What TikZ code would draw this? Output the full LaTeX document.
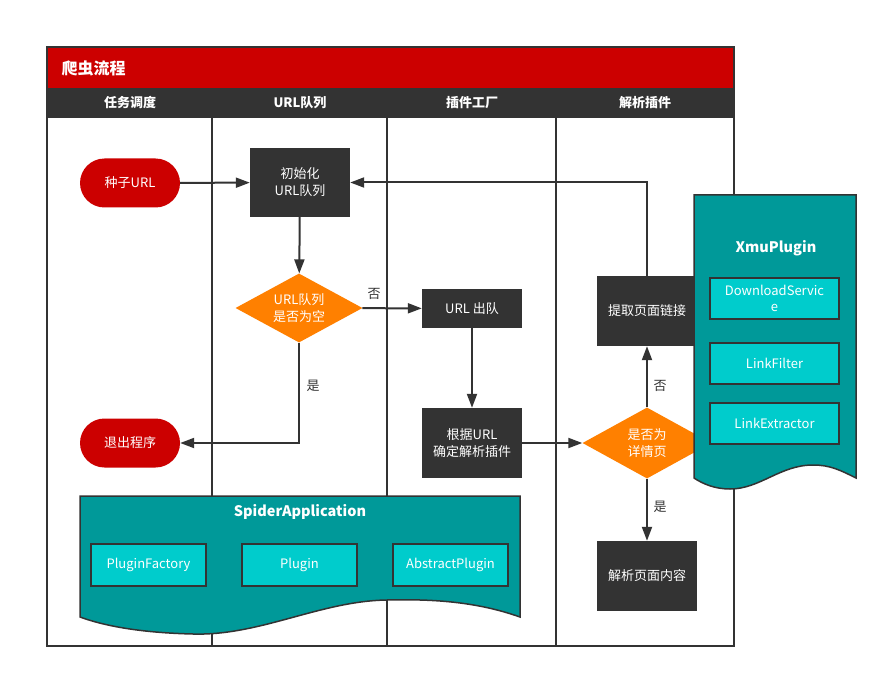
\documentclass[tikz,border=0pt]{standalone}
\usepackage{fontspec}
\setmainfont{Noto Sans CJK SC}
\usetikzlibrary{shapes.geometric,shapes.misc,arrows.meta}
\definecolor{cred}{HTML}{CC0000}
\definecolor{cdark}{HTML}{333333}
\definecolor{corange}{HTML}{FF8000}
\definecolor{cteal}{HTML}{009999}
\definecolor{ccyan}{HTML}{00CCCC}
\begin{document}
\begin{tikzpicture}[x=1pt,y=-1pt, font=\fontsize{13}{17}\selectfont,
 proc/.style={rectangle, fill=cdark, text=white, minimum width=100pt, minimum height=70pt, align=center, inner sep=0pt},
 term/.style={rounded rectangle, fill=cred, text=white, minimum width=100pt, minimum height=49pt, inner sep=0pt},
 dec/.style={diamond, fill=corange, text=white, aspect=1.85, inner sep=0pt, align=center, minimum width=127pt, minimum height=69pt},
 cls/.style={rectangle, draw=cdark, line width=1.5pt, fill=ccyan, text=white, align=center, inner sep=0pt},
 conn/.style={draw=cdark, line width=2pt, -{Triangle[length=14pt,width=10pt]}},
 lbl/.style={text=cdark, inner sep=0pt},
 lane/.style={draw=cdark, line width=1.6pt},
 hdr/.style={text=white, font=\fontsize{13}{17}\selectfont\bfseries},
 doc/.style={fill=cteal, draw=cdark, line width=1.5pt},
 doctitle/.style={text=white, font=\fontsize{14.5}{17}\selectfont\bfseries},
]
\useasboundingbox (0,0) rectangle (886,679);
\fill[white] (0,0) rectangle (886,679);
% frame and header
\fill[cred] (47,47) rectangle (734,88);
\fill[cdark] (47,88) rectangle (734,118);
\draw[lane] (47,47) rectangle (734,646);
\node[anchor=west, text=white, font=\fontsize{16}{18}\selectfont\bfseries] (title) at (58,68) {爬虫流程};
\node[hdr] (h1) at (130,103) {任务调度};
\node[hdr] (h2) at (300,103) {URL队列};
\node[hdr] (h3) at (472,103) {插件工厂};
\node[hdr] (h4) at (645,103) {解析插件};
% lanes
\draw[lane] (212,118) -- (212,646);
\draw[lane] (387,118) -- (387,646);
\draw[lane] (556,118) -- (556,646);
% nodes
\node[term] (seed) at (130,183) {种子URL};
\node[proc, minimum height=69pt] (init) at (300,182.5) {初始化\\URL队列};
\node[dec] (d1) at (299,308) {URL队列\\是否为空};
\node[proc, minimum height=39pt] (deq) at (472,308.5) {URL 出队};
\node[proc] (det) at (472,443) {根据URL\\确定解析插件};
\node[term] (exit) at (130,443) {退出程序};
\node[dec, minimum width=129pt, minimum height=71pt] (d2) at (647,443) {是否为\\详情页};
\node[proc] (extract) at (647,311) {提取页面链接};
\node[proc] (parse) at (647,576) {解析页面内容};
% connectors
\draw[conn] (seed) -- (init);
\draw[conn] (extract.north) |- (init.east);
\draw[conn] (init) -- (d1);
\draw[conn] (d1) -- (deq);
\draw[conn] (d1.south) |- (exit.east);
\draw[conn] (deq) -- (det);
\draw[conn] (det) -- (d2);
\draw[conn] (d2) -- (extract);
\draw[conn] (d2) -- (parse);
\node[lbl] (l1) at (374,294) {否};
\node[lbl] (l2) at (313,386) {是};
\node[lbl] (l3) at (660,386) {否};
\node[lbl] (l4) at (660,507) {是};
% SpiderApplication
\draw[doc] (80,496) -- (520,496) -- (520,617)
  .. controls (475,601) and (430,599) .. (387,600)
  .. controls (320,601) and (260,636) .. (193,634)
  .. controls (150,633) and (110,628) .. (80,617) -- cycle;
\node[doctitle] (sa) at (300,512) {SpiderApplication};
\node[cls, minimum width=115pt, minimum height=42pt] (pf) at (148.5,565) {PluginFactory};
\node[cls, minimum width=115pt, minimum height=42pt] (pl) at (299.5,565) {Plugin};
\node[cls, minimum width=115pt, minimum height=42pt] (ap) at (450.5,565) {AbstractPlugin};
% XmuPlugin
\draw[doc] (694,195) -- (856,195) -- (856,478)
  .. controls (840,470) and (830,465) .. (813,465)
  .. controls (780,465) and (760,489) .. (730,489)
  .. controls (715,489) and (703,484) .. (694,478) -- cycle;
\node[doctitle] (xp) at (776,248) {XmuPlugin};
\node[cls, minimum width=129pt, minimum height=41pt, font=\fontsize{13}{16}\selectfont] (ds) at (774.5,298.5) {DownloadServic\\e};
\node[cls, minimum width=129pt, minimum height=41pt] (lf) at (774.5,363.5) {LinkFilter};
\node[cls, minimum width=129pt, minimum height=41pt] (le) at (774.5,423.5) {LinkExtractor};
\end{tikzpicture}
\end{document}
